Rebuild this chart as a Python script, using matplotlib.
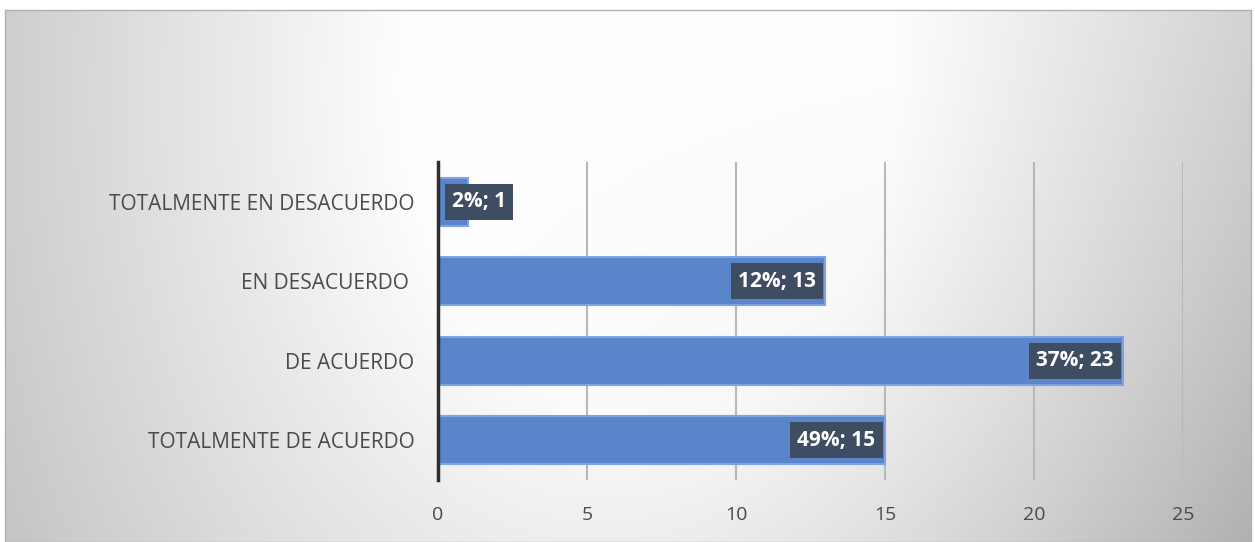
#!/usr/bin/env python3
# -*- coding: utf-8 -*-

import numpy as np
import matplotlib
matplotlib.use('Agg')
import matplotlib.pyplot as plt
from matplotlib.patches import Rectangle

# survey answers, bottom to top as drawn
categories = ['TOTALMENTE DE ACUERDO', 'DE ACUERDO', 'EN DESACUERDO ', 'TOTALMENTE EN DESACUERDO']
counts = [15, 23, 13, 1]
percents = [49, 37, 12, 2]
xticks = [0, 5, 10, 15, 20, 25]

plt.rcParams['font.family'] = ['Open Sans', 'DejaVu Sans']

W, H = 1255, 542
fig = plt.figure(figsize=(W / 100, H / 100), dpi=100)

# soft radial backdrop, white in the middle, grey towards the edges
bg = fig.add_axes([0, 0, 1, 1], zorder=-10)
yy, xx = np.mgrid[0:H, 0:W]
d = np.sqrt(((xx - 650) / 600.) ** 2 + ((yy - 100) / 800.) ** 2)
shade = 255 - 72 * np.clip(d - 0.4, 0, 1) - 25 * (xx / W) ** 2 * (yy / H)
shade[:10, :] = 255
shade[:, :5] = 255
shade[:, -4:] = 255
img = np.dstack([shade, shade, shade]).clip(0, 255).astype(np.uint8)
bg.imshow(img, aspect='auto', extent=(0, W, H, 0))
bg.add_patch(Rectangle((5, 10), W - 9, H - 10, fill=False, ec='#b0b0b0', lw=1.0))
bg.set_xlim(0, W)
bg.set_ylim(H, 0)
bg.axis('off')

ax = fig.add_axes([438 / W, 1 - 480 / H, (1183 - 438) / W, (480 - 162) / H])
ax.patch.set_alpha(0)

y = np.arange(len(categories))
ax.barh(y, counts, height=0.6, color='#5a85cb', edgecolor='#7da3e0', lw=1.5, zorder=3)

ax.set_xlim(0, 25)
ax.set_ylim(-0.5, 3.5)
ax.set_xticks(xticks)
ax.set_yticks(y)
ax.set_yticklabels(categories, fontsize=15)
ax.tick_params(axis='both', length=0, colors='#4a4a4a')
ax.tick_params(axis='x', labelsize=14, pad=19)
ax.tick_params(axis='y', pad=17)

ax.grid(True, axis='x', color='#b8b8b8', lw=1.5, zorder=0)
for s in ('top', 'right', 'bottom'):
    ax.spines[s].set_visible(False)
ax.spines['left'].set_color('#2e2e2e')
ax.spines['left'].set_linewidth(2.5)
ax.spines['left'].set_zorder(5)

box = dict(boxstyle='square,pad=0.35', fc='#3f4d63', ec='none')
for yi, n, p in zip(y, counts, percents):
    label = f'{p}%; {n}'
    if n < 3:
        ax.annotate(label, (0, yi), xytext=(10, 0), textcoords='offset points',
                    ha='left', va='center', color='white', fontsize=15,
                    fontweight='bold', bbox=box, zorder=6)
    else:
        ax.annotate(label, (n, yi), xytext=(-7, 0), textcoords='offset points',
                    ha='right', va='center', color='white', fontsize=15,
                    fontweight='bold', bbox=box, zorder=6)

fig.savefig('out.png', dpi=100)
